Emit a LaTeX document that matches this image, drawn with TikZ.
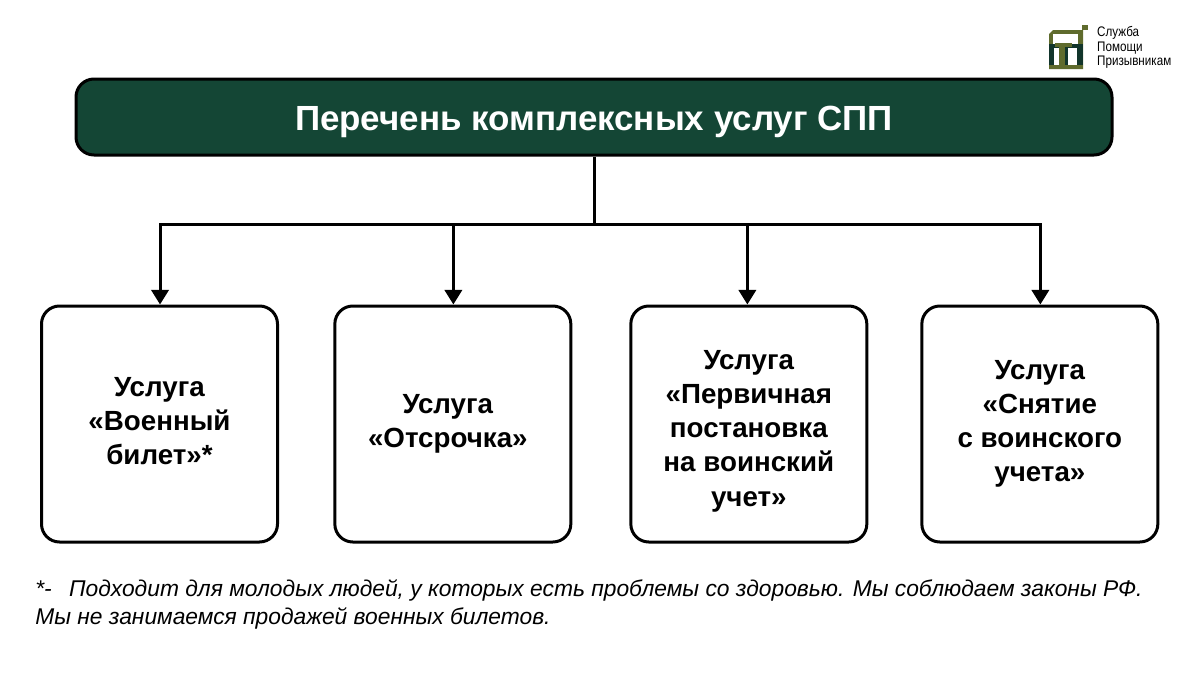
\documentclass[tikz,border=0pt]{standalone}
\usepackage{fontspec}
\setmainfont{Liberation Sans}
\usetikzlibrary{arrows.meta,calc}
\definecolor{sppgreen}{HTML}{144635}
\definecolor{sppdark}{HTML}{12352B}
\definecolor{sppolive}{HTML}{5F6B2D}
\tikzset{
    block/.style = {draw, rectangle, rounded corners=13.5pt, line width=2.25pt, fill=white,
        minimum height=177pt, minimum width=177pt, align=center,
        font=\fontsize{20.8pt}{25.6pt}\selectfont\bfseries},
    title/.style = {draw, rectangle, rounded corners=13.5pt, line width=2.25pt, fill=sppgreen,
        minimum height=57pt, minimum width=777pt, text=white, text height=24pt, text depth=4.5pt,
        font=\fontsize{26.2pt}{30pt}\selectfont\bfseries},
    line/.style={draw, line width=2.25pt},
    arrow/.style={line, -{Triangle[length=11pt,width=13pt]}},
    note/.style = {anchor=west, font=\fontsize{17.1pt}{20pt}\selectfont\itshape, inner sep=0pt},
    brand/.style = {anchor=west, xscale=.84, inner sep=0pt, font=\fontsize{10.4pt}{11pt}\selectfont}
}
\begin{document}
\begin{tikzpicture}[x=0.75pt, y=-0.75pt, node distance=220pt]
        \useasboundingbox (0,0) rectangle (1200,675);
        \node [title] (head) at (594,117) {Перечень комплексных услуг СПП};
        \node [block] (bilet) at (159.5,424) {Услуга\\«Военный\\билет»*\rule[-4.5pt]{0pt}{1pt}};
        \node [block, right of=bilet] (otsr) {Услуга\rule{7.5pt}{0pt}\\«Отсрочка»\rule{7.5pt}{0pt}};
        \node [block, right of=otsr, node distance=222pt] (perv) {\rule{0pt}{25pt}Услуга\\«Первичная\\постановка\\на воинский\\учет»};
        \node [block, right of=perv, node distance=218.25pt] (snyat) {Услуга\\«Снятие\\с воинского\\учета»};
        \coordinate (bus) at (594,224);
        \draw [line] (head) -- (bus);
        \draw [arrow] (bus) -| ([xshift=.4pt]bilet.north);
        \draw [arrow] (bus) -| ([xshift=.4pt]otsr.north);
        \draw [arrow] (bus) -| ([xshift=-1.1pt]perv.north);
        \draw [arrow] (bus) -| ([xshift=.4pt]snyat.north);
        \node [note] (note1) at (35,590) {*-\hspace{13pt}Подходит для молодых людей, у которых есть проблемы со здоровью. Мы соблюдаем законы РФ.};
        \node [note] (note2) at (35,618) {Мы не занимаемся продажей военных билетов.};
        % logo
        \fill [sppolive] (1049,34) -- (1053,30) -- (1083,30) -- (1083,69) -- (1049,69) -- cycle;
        \fill [sppolive] (1082,25) rectangle (1088,30);
        \fill [white] (1053,34) rectangle (1078,44);
        \fill [sppdark] (1049,44) rectangle (1083,65);
        \fill [white] (1054,48) rectangle (1059,65);
        \fill [white] (1068,48) rectangle (1077,65);
        \fill [sppolive] (1055,43) rectangle (1072,47);
        \fill [sppolive] (1059,43) rectangle (1065,65);
        \node [brand] (brand1) at (1097,33) {Служба};
        \node [brand] (brand2) at (1097,48) {Помощи};
        \node [brand] (brand3) at (1097,62) {Призывникам};
\end{tikzpicture}
\end{document}
